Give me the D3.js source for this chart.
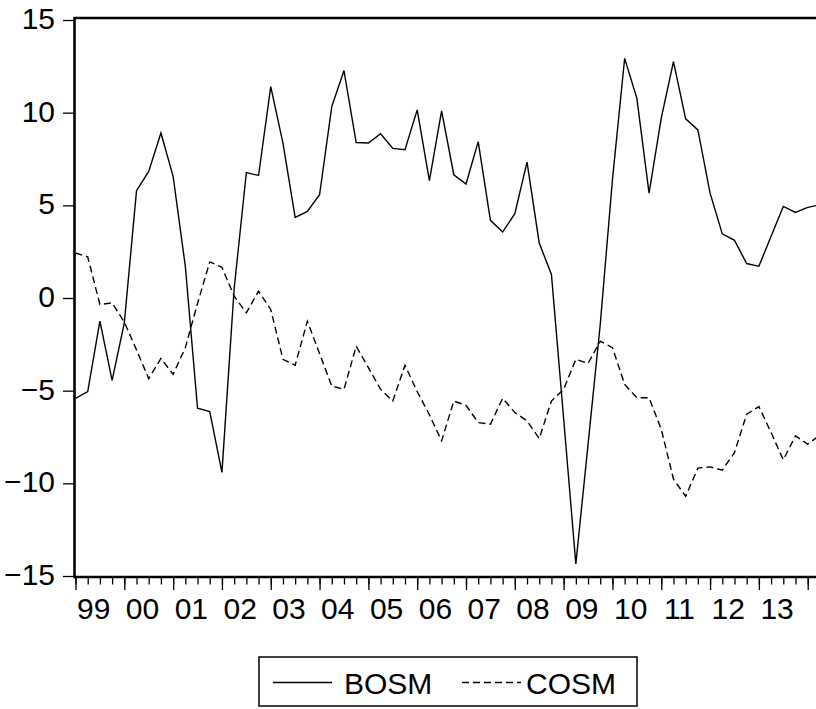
<!DOCTYPE html>
<html>

<head>
  <meta http-equiv="content-type" content="text/html; charset=utf-8">
  <title>BOSM / COSM</title>
  <style>
    body {
      margin: 0;
      background: #fff;
    }

    text {
      font-family: "Liberation Sans", Arial, sans-serif;
      fill: #000;
    }

    .tick line {
      stroke: #000;
      stroke-width: 1.3;
    }

    .series {
      fill: none;
      stroke: #000;
      stroke-width: 1.4;
      stroke-linejoin: miter;
    }

    .dashed {
      stroke-dasharray: 7, 4;
    }

    .frame {
      stroke: #000;
      stroke-width: 2.6;
      fill: none;
    }
  </style>
</head>

<body>
  <svg id="canvas"></svg>
  <script src="https://cdnjs.cloudflare.com/ajax/libs/d3/7.8.5/d3.min.js"></script>
  <script>

    // quarterly, 1999Q1 onwards (the picture is cut off just after 2014Q1)
    const year_labels = ["99", "00", "01", "02", "03", "04", "05", "06", "07", "08", "09", "10", "11", "12", "13"];

    const bosm = [
      -5.41, -5.05, -1.25, -4.44, -1.34, 5.79, 6.83, 8.9, 6.56, 1.71,
      -5.95, -6.13, -9.41, 0.5, 6.77, 6.61, 11.4, 8.36, 4.35, 4.67,
      5.57, 10.33, 12.27, 8.39, 8.36, 8.86, 8.07, 8.0, 10.15, 6.33,
      10.1, 6.65, 6.15, 8.44, 4.19, 3.56, 4.55, 7.33, 2.97, 1.27,
      -6.5, -14.35, -7.9, -1.43, 6.38, 12.93, 10.78, 5.66, 9.7, 12.75,
      9.67, 9.07, 5.66, 3.46, 3.11, 1.86, 1.71, 3.33, 4.94, 4.62,
      4.89, 5.03
    ];

    const cosm = [
      2.43, 2.22, -0.35, -0.26, -1.3, -2.8, -4.35, -3.26, -4.12, -2.68,
      -0.3, 1.95, 1.66, 0.1, -0.8, 0.37, -0.62, -3.31, -3.63, -1.25,
      -3.0, -4.75, -4.93, -2.6, -3.76, -4.93, -5.56, -3.63, -5.05, -6.3,
      -7.71, -5.56, -5.79, -6.72, -6.81, -5.41, -6.18, -6.63, -7.58, -5.56,
      -4.93, -3.31, -3.53, -2.33, -2.68, -4.66, -5.38, -5.38, -7.08, -9.77,
      -10.7, -9.18, -9.11, -9.29, -8.34, -6.27, -5.86, -7.26, -8.73, -7.44,
      -7.89, -7.4
    ];

    const series = [
      { name: "BOSM", values: bosm, dashed: false },
      { name: "COSM", values: cosm, dashed: true }
    ];

    const y_ticks = [-15, -10, -5, 0, 5, 10, 15];

    const dims = { width: 816, height: 709, left: 75.5, top: 18, bottom: 577, right: 840 };

    const svg = d3.select("svg#canvas")
      .attr("width", dims.width)
      .attr("height", dims.height);

    // 60 quarters (1999Q1..2014Q1) span the axis up to x=807.7
    const x = d3.scaleLinear().domain([0, 60]).range([dims.left, 807.7]);
    const y = d3.scaleLinear().domain([-15, 15]).range([576, 20]);

    const n_quarters = bosm.length;

    // minor (quarter) ticks
    svg.append("g")
      .attr("transform", "translate(0," + dims.bottom + ")")
      .call(d3.axisBottom(x).tickValues(d3.range(n_quarters)).tickSize(7.5).tickFormat(""))
      .call(g => g.select(".domain").remove());

    // major (year) ticks
    svg.append("g")
      .attr("transform", "translate(0," + dims.bottom + ")")
      .call(d3.axisBottom(x).tickValues(d3.range(0, n_quarters, 4)).tickSize(13).tickFormat(""))
      .call(g => g.select(".domain").remove());

    // year labels, sitting a bit inside each year
    svg.append("g")
      .attr("transform", "translate(0," + dims.bottom + ")")
      .call(d3.axisBottom(x)
        .tickValues(year_labels.map((_, i) => i * 4 + 1.45))
        .tickFormat((_, i) => year_labels[i])
        .tickSize(0).tickPadding(21))
      .call(g => g.select(".domain").remove())
      .call(g => g.selectAll("text").attr("font-size", 30));

    svg.append("g")
      .attr("transform", "translate(" + (dims.left - 1.5) + ",0)")
      .call(d3.axisLeft(y).tickValues(y_ticks).tickSize(11).tickPadding(8))
      .call(g => g.select(".domain").remove())
      .call(g => g.selectAll("text").attr("font-size", 30).attr("dy", "0.28em"));

    const line = d3.line()
      .x((_, i) => x(i))
      .y(v => y(v));

    svg.selectAll(".series")
      .data(series)
      .enter().append("path")
      .attr("class", s => "series" + (s.dashed ? " dashed" : ""))
      .attr("d", s => line(s.values));

    // box: left axis, top and bottom
    svg.append("path")
      .attr("class", "frame")
      .attr("d", "M" + dims.right + "," + dims.top + "H" + (dims.left - 1) + "V" + dims.bottom + "H" + dims.right);

    // legend
    const legend = { x: 259, y: 657, w: 378, h: 49 };
    svg.append("rect")
      .attr("x", legend.x).attr("y", legend.y)
      .attr("width", legend.w).attr("height", legend.h)
      .attr("fill", "none").attr("stroke", "#000").attr("stroke-width", 1.5);

    const legend_items = svg.selectAll(".legend_item")
      .data(series)
      .enter().append("g")
      .attr("class", "legend_item")
      .attr("transform", (_, i) => "translate(" + [273, 462][i] + ",682.5)");

    legend_items.append("line")
      .attr("class", s => "series" + (s.dashed ? " dashed" : ""))
      .attr("x1", 0).attr("x2", 59)
      .attr("y1", 0).attr("y2", 0);

    legend_items.append("text")
      .attr("x", (_, i) => [71, 64][i])
      .attr("y", 11.5)
      .attr("font-size", 30)
      .text(s => s.name);

  </script>
</body>

</html>
